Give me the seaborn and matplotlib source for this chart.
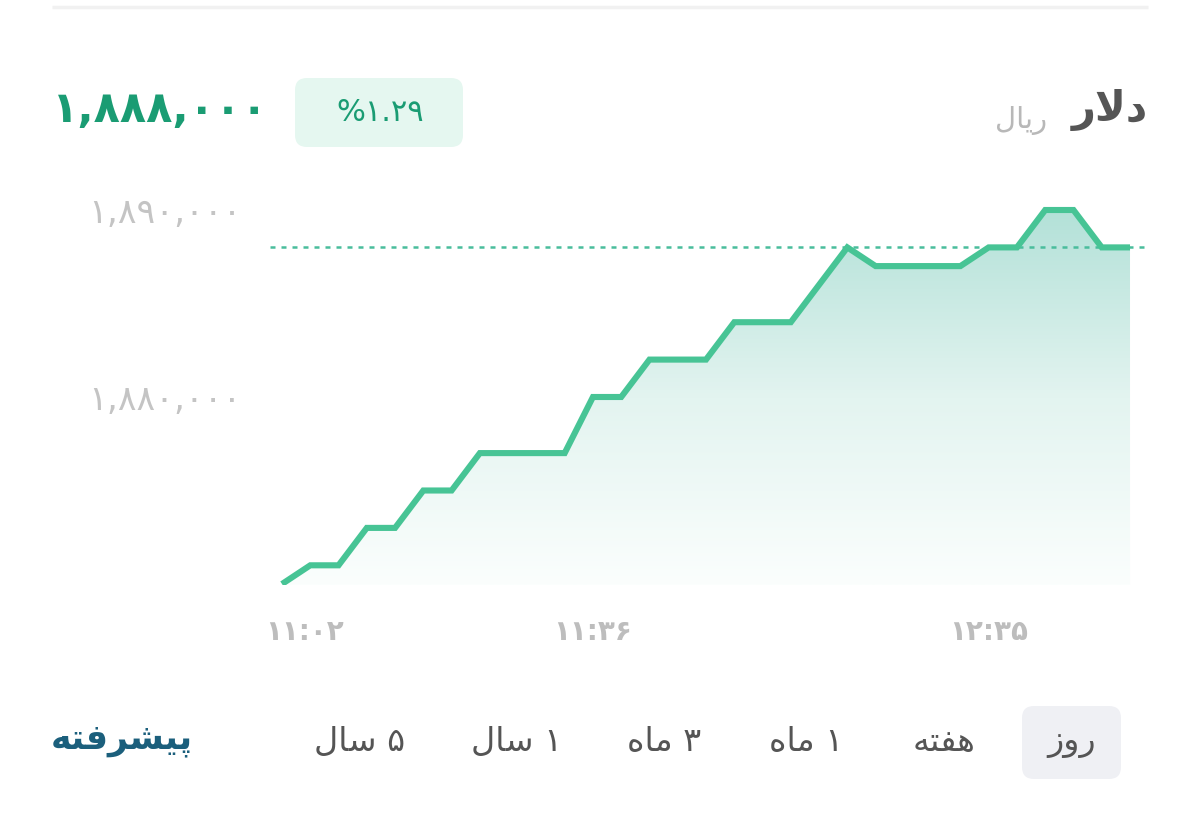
import numpy as np
import pandas as pd
import seaborn as sns
import matplotlib.pyplot as plt
from matplotlib.patches import FancyBboxPatch
from matplotlib.colors import LinearSegmentedColormap

# ---------------- data ----------------
prices = [1870000, 1871000, 1871000, 1873000, 1873000, 1875000, 1875000,
          1877000, 1877000, 1877000, 1877000, 1880000, 1880000, 1882000,
          1882000, 1882000, 1884000, 1884000, 1884000, 1886000, 1888000,
          1887000, 1887000, 1887000, 1887000, 1888000, 1888000, 1890000,
          1890000, 1888000, 1888000]
current_price = 1888000
ytick_values = [1880000, 1890000]
ytick_labels = ["۱,۸۸۰,۰۰۰", "۱,۸۹۰,۰۰۰"]
xtick_positions = [0.8, 11, 25]
xtick_labels = ["۱۱:۰۲", "۱۱:۳۶", "۱۲:۳۵"]
title_text = "دلار"
unit_text = "ریال"
price_text = "۱,۸۸۸,۰۰۰"
change_text = "%۱.۲۹"
tabs = ["روز", "هفته", "۱ ماه", "۳ ماه", "۱ سال", "۵ سال"]
advanced_text = "پیشرفته"

# ---------------- minimal Persian shaping (presentation forms) ----------------
FORMS = {
    'ا': ('\uFE8D', '\uFE8E', None, None),
    'د': ('\uFEA9', '\uFEAA', None, None),
    'ر': ('\uFEAD', '\uFEAE', None, None),
    'ز': ('\uFEAF', '\uFEB0', None, None),
    'و': ('\uFEED', '\uFEEE', None, None),
    'ل': ('\uFEDD', '\uFEDE', '\uFEDF', '\uFEE0'),
    'ی': ('\uFBFC', '\uFBFD', '\uFBFE', '\uFBFF'),
    'پ': ('\uFB56', '\uFB57', '\uFB58', '\uFB59'),
    'ش': ('\uFEB5', '\uFEB6', '\uFEB7', '\uFEB8'),
    'ف': ('\uFED1', '\uFED2', '\uFED3', '\uFED4'),
    'ت': ('\uFE95', '\uFE96', '\uFE97', '\uFE98'),
    'ه': ('\uFEE9', '\uFEEA', '\uFEEB', '\uFEEC'),
    'م': ('\uFEE1', '\uFEE2', '\uFEE3', '\uFEE4'),
    'س': ('\uFEB1', '\uFEB2', '\uFEB3', '\uFEB4'),
}


def shape_word(w):
    out = []
    i, n = 0, len(w)
    while i < n:
        c = w[i]
        if c not in FORMS:
            out.append(c)
            i += 1
            continue
        prev = w[i - 1] if i > 0 else None
        jp = prev in FORMS and FORMS[prev][2] is not None
        if c == 'ل' and i + 1 < n and w[i + 1] == 'ا':
            out.append('\uFEFC' if jp else '\uFEFB')
            i += 2
            continue
        nxt = w[i + 1] if i + 1 < n else None
        f = FORMS[c]
        jn = f[2] is not None and nxt in FORMS
        if jp and jn:
            g = f[3]
        elif jp:
            g = f[1]
        elif jn:
            g = f[2]
        else:
            g = f[0]
        out.append(g)
        i += 1
    return ''.join(out)


def rtl(text):
    toks = text.split(' ')
    res = []
    for t in toks:
        if any(ch in FORMS for ch in t):
            res.append(shape_word(t)[::-1])
        else:
            res.append(t)
    return ' '.join(reversed(res))


# ---------------- figure ----------------
sns.set_theme(style="white")
plt.rcParams['font.family'] = ['DejaVu Sans']

W, H = 1200, 817
fig = plt.figure(figsize=(W / 100, H / 100), dpi=100)
fig.patch.set_facecolor("white")

# chart axes (pixel box 270..1148 x 200..585)
ax_l, ax_r, ax_t, ax_b = 270, 1148, 200, 585
ax = fig.add_axes([ax_l / W, 1 - ax_b / H, (ax_r - ax_l) / W, (ax_b - ax_t) / H])
step_px = 28.267
x0_px = 282
xmin = (ax_l - x0_px) / step_px
xmax = (ax_r - x0_px) / step_px
px_per_unit = 18.7 / 1000.0
ymax = 1890000 + (210 - ax_t) / px_per_unit
ymin = 1890000 - (ax_b - 210) / px_per_unit

df = pd.DataFrame({"idx": np.arange(len(prices)), "price": prices})

# gradient fill under the line
poly = ax.fill_between(df["idx"], df["price"], ymin, color="none", lw=0)
cmap = LinearSegmentedColormap.from_list("g", ["#fbfefd", "#e3f4f0", "#b3e1d8"])
grad = np.linspace(0, 1, 256).reshape(-1, 1)
im = ax.imshow(grad, cmap=cmap, aspect="auto", origin="lower",
               extent=[0, len(prices) - 1, ymin, 1890000], zorder=1)
path = poly.get_paths()[0]
im.set_clip_path(path, transform=ax.transData)

sns.lineplot(data=df, x="idx", y="price", ax=ax, color="#47c495",
             linewidth=4.4, solid_joinstyle="miter", solid_capstyle="butt",
             zorder=3)
ax.axhline(current_price, color="#49bd9c", linewidth=1.8,
           dashes=(2.0, 2.4), zorder=2)

ax.set_xlim(xmin, xmax)
ax.set_ylim(ymin, ymax)
ax.set_xlabel("")
ax.set_ylabel("")
for s in ax.spines.values():
    s.set_visible(False)
ax.grid(False)
ax.set_facecolor("none")

ax.set_yticks(ytick_values)
ax.set_yticklabels(ytick_labels)
ax.tick_params(axis="y", length=0, pad=(ax_l - 88) * 0.72, labelsize=25,
               labelcolor="#c4c4c4")
for lab in ax.get_yticklabels():
    lab.set_horizontalalignment("left")

ax.set_xticks(xtick_positions)
ax.set_xticklabels(xtick_labels)
ax.tick_params(axis="x", length=0, pad=24, labelsize=20, labelcolor="#bdbdbd")
for lab in ax.get_xticklabels():
    lab.set_fontweight("bold")

# overlay axes in pixel coordinates for header / tabs
ov = fig.add_axes([0, 0, 1, 1], zorder=-1)
ov.set_xlim(0, W)
ov.set_ylim(H, 0)
ov.axis("off")

ov.plot([52, 1148], [7, 7], color="#f1f1f1", lw=2.5, solid_capstyle="butt")

# header
ov.add_patch(FancyBboxPatch((295, 78), 168, 69,
                            boxstyle="round,pad=0,rounding_size=12",
                            fc="#e5f7f0", ec="none"))
ov.text(52, 110, price_text, ha="left", va="center", fontsize=31,
        fontweight="bold", color="#1a9c73")
ov.text(380, 112, change_text, ha="center", va="center", fontsize=22,
        color="#1a9c73")
ov.text(1148, 110, rtl(title_text), ha="right", va="center", fontsize=30,
        fontweight="bold", color="#555555")
ov.text(1047, 120, rtl(unit_text), ha="right", va="center", fontsize=21,
        color="#b8b8b8")

# tabs
ov.add_patch(FancyBboxPatch((1022, 706), 99, 73,
                            boxstyle="round,pad=0,rounding_size=12",
                            fc="#eff0f4", ec="none"))
tab_centers = [1072, 944, 806, 664, 517, 360]
for t, cx in zip(tabs, tab_centers):
    ov.text(cx, 742, rtl(t), ha="center", va="center", fontsize=24,
            color="#555555")
ov.text(122, 740, rtl(advanced_text), ha="center", va="center", fontsize=25,
        fontweight="bold", color="#1b5f7c")

fig.savefig("out.png", dpi=100, facecolor="white")
